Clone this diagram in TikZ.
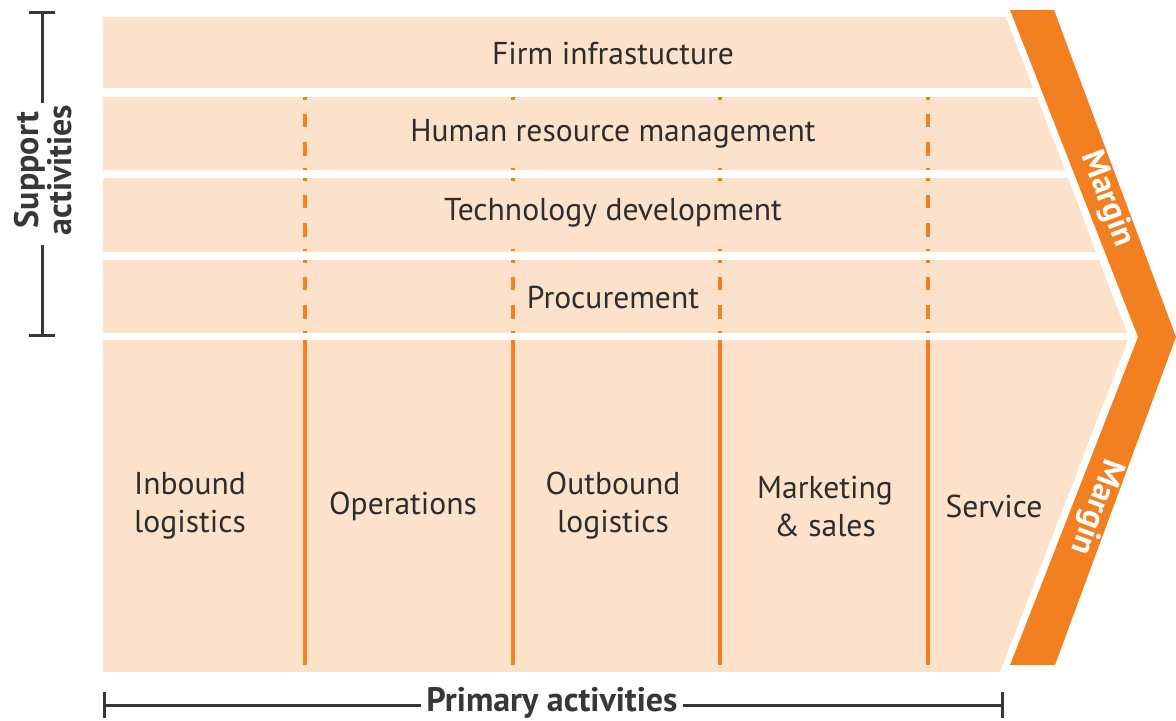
\documentclass[tikz,border=0pt]{standalone}
\usepackage{fontspec}
\setmainfont{PT Sans}
\definecolor{peach}{RGB}{252,226,202}
\definecolor{vorange}{RGB}{242,128,32}
\definecolor{txt}{RGB}{45,45,45}
\definecolor{brk}{RGB}{55,55,55}
\begin{document}
\begin{tikzpicture}[x=0.5pt,y=-0.5pt,
  band/.style={fill=peach,draw=none},
  lbl/.style={text=txt,font=\fontsize{15.8}{19}\selectfont,inner xsep=2pt,inner ysep=0pt,align=center},
  slbl/.style={lbl,fill=peach,minimum height=24pt},
  solidcol/.style={draw=vorange,line width=2pt},
  dashcol/.style={draw=vorange,line width=2pt,dash pattern=on 1.5pt off 7pt on 6.5pt off 7.5pt on 7pt off 6pt on 1pt},
  marginlbl/.style={text=white,font=\bfseries\fontsize{16.5}{18}\selectfont,inner sep=0pt},
  brace/.style={draw=brk,line width=1.5pt},
  bracetext/.style={text=brk,font=\bfseries\fontsize{17}{16.5}\selectfont,inner sep=0pt,align=center}]
\useasboundingbox (0,0) rectangle (1176,720);
% support bands
\path[band] (103,17) -- (1006,17) -- (1033,88) -- (103,88) -- cycle;
\path[band] (103,97) -- (1037,97) -- (1065,170) -- (103,170) -- cycle;
\path[band] (103,178) -- (1068,178) -- (1096,252) -- (103,252) -- cycle;
\path[band] (103,260) -- (1099,260) -- (1127,333) -- (103,333) -- cycle;
% primary band
\path[band] (103,340) -- (1128,340) -- (1000,672) -- (103,672) -- cycle;
% margin chevron
\path[fill=vorange] (1010,10) -- (1054,10) -- (1176,337) -- (1055,665) -- (1010,665) -- (1138,337) -- cycle;
% dashed columns in support bands
\foreach \t in {97,178,260}{
  \foreach \c in {305,513,720,928}{
    \draw[dashcol] (\c,\t) -- (\c,\t+73);
  }
}
% solid columns in primary band
\foreach \c in {305,513,720,928}{
  \draw[solidcol] (\c,340) -- (\c,665);
}
% support labels
\node[lbl] (firm) at (613,53) {Firm infrastucture};
\node[slbl] (hrm) at (613,134) {Human resource management};
\node[slbl] (tech) at (613,213) {Technology development};
\node[slbl] (proc) at (613,297) {Procurement};
% primary labels
\node[lbl] (inb) at (190,506) {Inbound\\logistics};
\node[lbl] (ops) at (403,506) {Operations};
\node[lbl] (outb) at (613,506) {Outbound\\logistics};
\node[lbl] (mkt) at (825,506) {Marketing\\\& sales};
\node[lbl] (srv) at (994,506) {Service};
% margin labels
\node[marginlbl,rotate=-69.5] (m1) at (1107,199) {Margin};
\node[marginlbl,rotate=-110.3] (m2) at (1096,507) {Margin};
% support activities bracket
\node[bracetext,rotate=90] (sa) at (43,170) {Support\\activities};
\coordinate (sat) at (42,12);
\coordinate (sab) at (42,335);
\coordinate (sau) at (42,103);
\coordinate (sal) at (42,245);
\draw[brace] (sat) -- (sau);
\draw[brace] (sal) -- (sab);
\draw[brace] ([xshift=-6.5pt]sat) -- ([xshift=6.5pt]sat);
\draw[brace] ([xshift=-6.5pt]sab) -- ([xshift=6.5pt]sab);
% primary activities bracket
\node[bracetext] (pa) at (552,703) {Primary activities};
\coordinate (pal) at (104,705);
\coordinate (par) at (1002,705);
\draw[brace,shorten >=2.5pt] (pal) -- (pa.west |- pal);
\draw[brace,shorten <=2.5pt] (pa.east |- par) -- (par);
\draw[brace] ([yshift=6.5pt]pal) -- ([yshift=-6.5pt]pal);
\draw[brace] ([yshift=6.5pt]par) -- ([yshift=-6.5pt]par);
\end{tikzpicture}
\end{document}
